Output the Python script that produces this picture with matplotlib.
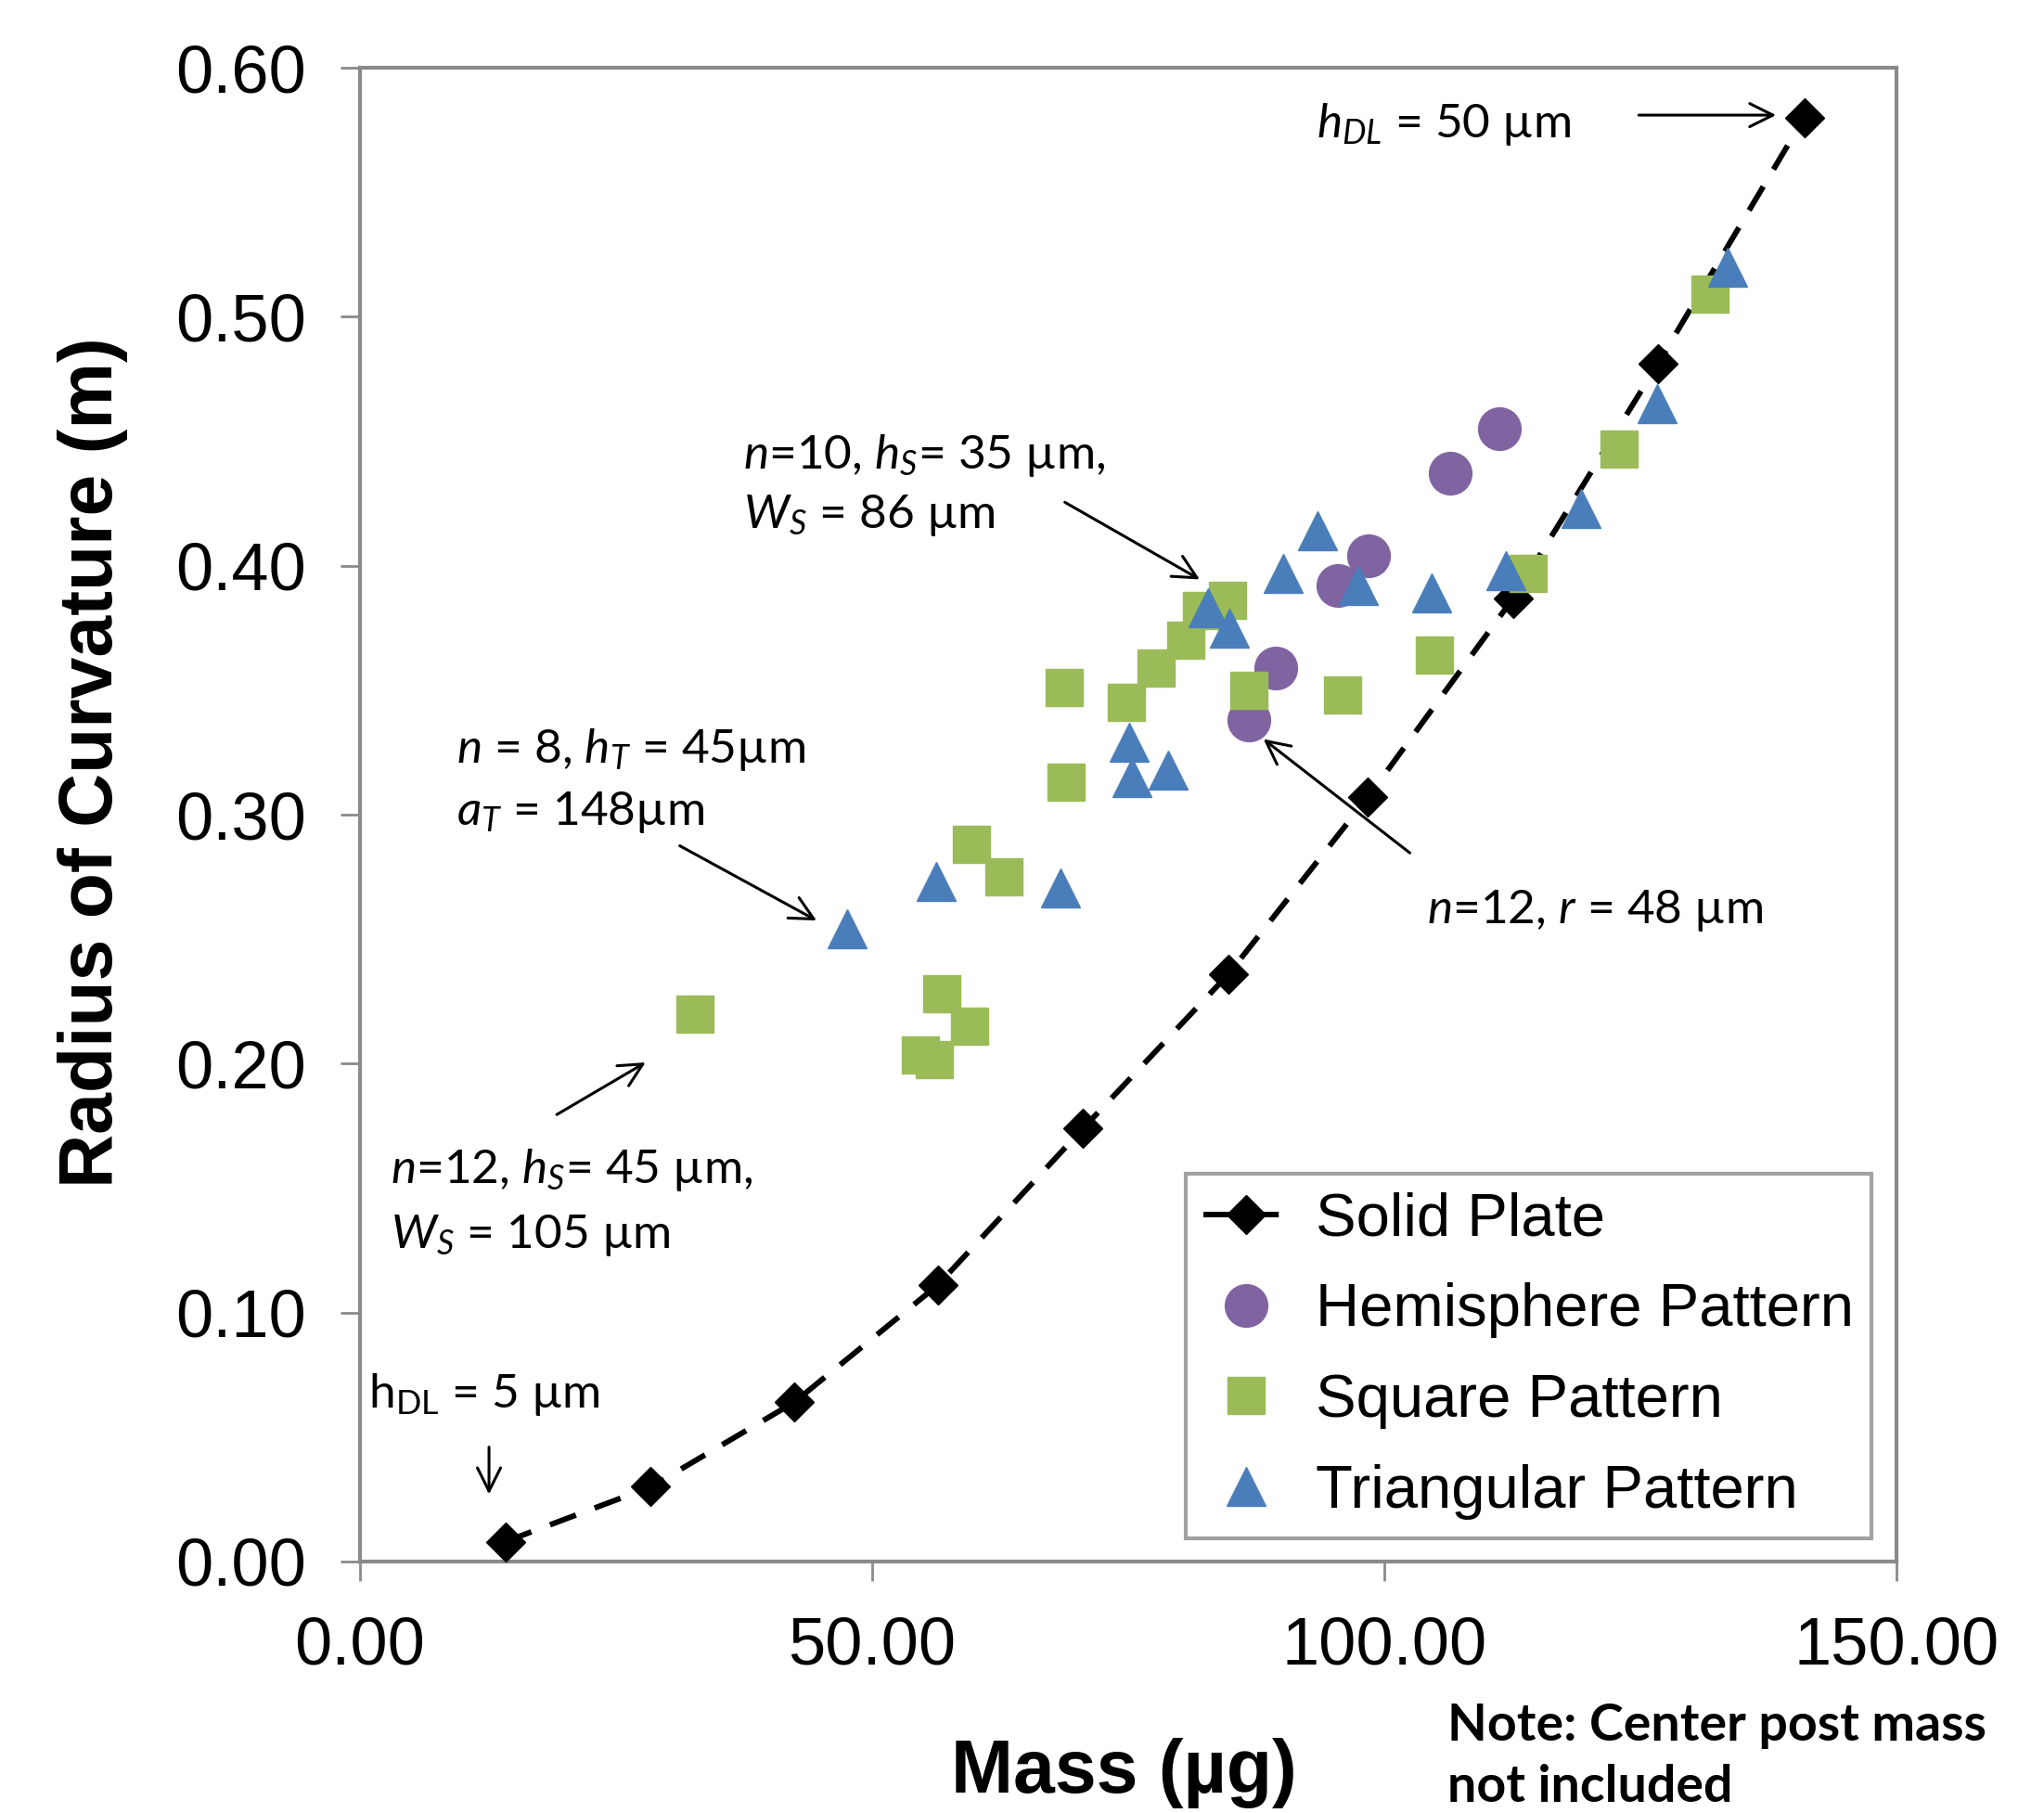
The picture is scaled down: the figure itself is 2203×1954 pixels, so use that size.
import matplotlib
matplotlib.use("Agg")
import matplotlib.pyplot as plt
from matplotlib.ticker import FormatStrFormatter

plt.rcParams['font.family'] = ['Liberation Sans', 'DejaVu Sans']
plt.rcParams['mathtext.fontset'] = 'custom'
plt.rcParams['mathtext.rm'] = 'Lato'
plt.rcParams['mathtext.it'] = 'Lato:italic'
plt.rcParams['mathtext.bf'] = 'Lato:bold'

# Solid plate (h_DL = 5 ... 50 um)
solid_mass = [14.2, 28.4, 42.4, 56.4, 70.6, 84.8, 98.4, 112.6, 126.7, 141.0]
solid_roc = [0.008, 0.030, 0.064, 0.111, 0.174, 0.236, 0.307, 0.387, 0.481, 0.580]

# Hemisphere pattern
hemi_mass = [86.8, 89.4, 95.5, 98.5, 106.4, 111.2]
hemi_roc = [0.338, 0.359, 0.392, 0.404, 0.437, 0.455]

# Square pattern
sq_mass = [32.7, 54.7, 56.1, 56.8, 59.5, 59.7, 62.9, 68.9, 68.8, 74.8, 77.7,
           80.6, 82.2, 84.7, 86.8, 95.9, 104.9, 114.0, 122.9, 131.8]
sq_roc = [0.220, 0.2035, 0.2016, 0.228, 0.215, 0.288, 0.275, 0.313, 0.351, 0.345, 0.359,
          0.370, 0.382, 0.386, 0.350, 0.348, 0.364, 0.397, 0.447, 0.509]

# Triangular pattern
tri_mass = [47.6, 56.3, 68.4, 75.1, 75.4, 78.9, 82.8, 84.9, 90.1, 93.5,
            97.5, 104.6, 111.9, 119.2, 126.6, 133.5]
tri_roc = [0.254, 0.273, 0.2706, 0.329, 0.315, 0.318, 0.383, 0.375, 0.397, 0.414,
           0.392, 0.389, 0.398, 0.423, 0.465, 0.520]

x_ticks = [0, 50, 100, 150]
y_ticks = [0.0, 0.1, 0.2, 0.3, 0.4, 0.5, 0.6]

purple = '#8064A2'
green = '#9BBB59'
blue = '#4A7EBB'
spine_gray = '#8A8A8A'

fig = plt.figure(figsize=(22.03, 19.54), dpi=100)
ax = fig.add_axes([0.1761, 0.1387, 0.7517, 0.8239])

ax.plot(solid_mass, solid_roc, color='black', lw=4.3, dashes=(5, 3.6),
        marker='D', markersize=21, label='Solid Plate', zorder=3)
ax.plot(hemi_mass, hemi_roc, ls='none', marker='o', markersize=33,
        color=purple, label='Hemisphere Pattern', zorder=4)
ax.plot(sq_mass, sq_roc, ls='none', marker='s', markersize=29,
        color=green, label='Square Pattern', zorder=4)
ax.plot(tri_mass, tri_roc, ls='none', marker='^', markersize=30,
        color=blue, label='Triangular Pattern', zorder=5)

ax.set_xlim(0, 150)
ax.set_ylim(0, 0.6)
ax.set_xticks(x_ticks)
ax.set_yticks(y_ticks)
ax.xaxis.set_major_formatter(FormatStrFormatter('%.2f'))
ax.yaxis.set_major_formatter(FormatStrFormatter('%.2f'))
ax.tick_params(axis='both', direction='out', length=15, width=2,
               color=spine_gray, labelsize=52, pad=27)
for s in ax.spines.values():
    s.set_color(spine_gray)
    s.set_linewidth(3)

ax.set_xlabel('Mass (µg)', fontsize=58, fontweight='bold')
ax.set_ylabel('Radius of Curvature (m)', fontsize=58, fontweight='bold')
ax.xaxis.set_label_coords(0.497, -0.118)
ax.yaxis.set_label_coords(-0.151, 0.535)

# annotations (Calibri-like text)
afont = dict(family='Lato', fontsize=37, va='baseline', ha='left')
arrow = dict(arrowstyle='->', lw=2.2, color='black', mutation_scale=45)

ax.text(93.4, 0.572, r'$h_{DL}$ = 50 µm', **afont)
ax.annotate('', xy=(138.5, 0.581), xytext=(124.6, 0.581), arrowprops=arrow)

ax.text(37.4, 0.439, r'$n$=10, $h_S$= 35 µm,', **afont)
ax.text(37.4, 0.415, r'$W_S$ = 86 µm', **afont)
ax.annotate('', xy=(82.2, 0.394), xytext=(68.6, 0.426), arrowprops=arrow)

ax.text(9.4, 0.321, r'$n$ = 8, $h_T$ = 45µm', **afont)
ax.text(9.4, 0.296, r'$a_T$ = 148µm', **afont)
ax.annotate('', xy=(44.8, 0.257), xytext=(31.0, 0.288), arrowprops=arrow)

ax.text(3.0, 0.152, r'$n$=12, $h_S$= 45 µm,', **afont)
ax.text(3.0, 0.126, r'$W_S$ = 105 µm', **afont)
ax.annotate('', xy=(28.1, 0.201), xytext=(19.0, 0.179), arrowprops=arrow)

ax.text(0.8, 0.0618, r'h$_{\mathrm{DL}}$ = 5 µm', **afont)
ax.annotate('', xy=(12.6, 0.026), xytext=(12.6, 0.047), arrowprops=arrow)

ax.text(104.2, 0.2565, r'$n$=12, $r$ = 48 µm', **afont)
ax.annotate('', xy=(88.0, 0.331), xytext=(102.7, 0.284), arrowprops=arrow)

leg = ax.legend(loc='lower right', bbox_to_anchor=(0.984, 0.0157), borderaxespad=0,
                fontsize=47, frameon=True, fancybox=False, handlelength=1.4,
                handletextpad=0.45, labelspacing=0.58, borderpad=0.3, numpoints=1)
leg.get_frame().set_edgecolor(spine_gray)
leg.get_frame().set_linewidth(3)

fig.text(0.708, 0.040, 'Note: Center post mass', family='Lato', fontweight='bold',
         fontsize=40, va='baseline')
fig.text(0.708, 0.006, 'not included', family='Lato', fontweight='bold',
         fontsize=40, va='baseline')

fig.savefig('out.png', dpi=100)
